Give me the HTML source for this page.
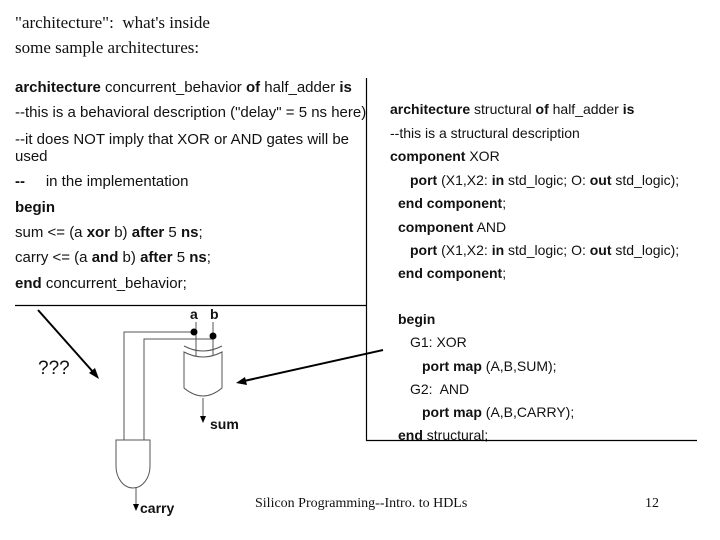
<!DOCTYPE html>
<html><head><style>
body{margin:0;width:720px;height:540px;background:#fff;position:relative;overflow:hidden;font-family:"Liberation Sans",Arial,sans-serif;color:#111}
.t{position:absolute;white-space:nowrap}
.s{font-family:"Liberation Serif",serif;font-size:17px}
.c{font-size:14px}
.l{font-size:15px}
b{font-weight:bold}
</style></head><body>
<div class="t s" style="left:15px;top:13px">"architecture":&nbsp; what's inside</div>
<div class="t s" style="left:15px;top:38px">some sample architectures:</div>

<div class="t l" style="left:15px;top:79px"><b>architecture</b> concurrent_behavior <b>of</b> half_adder <b>is</b></div>
<div class="t l" style="left:15px;top:104px">--this is a behavioral description ("delay" = 5 ns here)</div>
<div class="t l" style="left:15px;top:131px">--it does NOT imply that XOR or AND gates will be</div>
<div class="t l" style="left:15px;top:148px">used</div>
<div class="t l" style="left:15px;top:173px"><b>--</b>&nbsp;&nbsp;&nbsp;&nbsp; in the implementation</div>
<div class="t l" style="left:15px;top:199px"><b>begin</b></div>
<div class="t l" style="left:15px;top:224px">sum &lt;= (a <b>xor</b> b) <b>after</b> 5 <b>ns</b>;</div>
<div class="t l" style="left:15px;top:249px">carry &lt;= (a <b>and</b> b) <b>after</b> 5 <b>ns</b>;</div>
<div class="t l" style="left:15px;top:275px"><b>end</b> concurrent_behavior;</div>

<div class="t c" style="left:390px;top:101px"><b>architecture</b> structural <b>of</b> half_adder <b>is</b></div>
<div class="t c" style="left:390px;top:125px">--this is a structural description</div>
<div class="t c" style="left:390px;top:148px"><b>component</b> XOR</div>
<div class="t c" style="left:410px;top:172px"><b>port</b> (X1,X2: <b>in</b> std_logic; O: <b>out</b> std_logic);</div>
<div class="t c" style="left:398px;top:195px"><b>end component</b>;</div>
<div class="t c" style="left:398px;top:219px"><b>component</b> AND</div>
<div class="t c" style="left:410px;top:242px"><b>port</b> (X1,X2: <b>in</b> std_logic; O: <b>out</b> std_logic);</div>
<div class="t c" style="left:398px;top:265px"><b>end component</b>;</div>
<div class="t c" style="left:398px;top:311px"><b>begin</b></div>
<div class="t c" style="left:410px;top:334px">G1: XOR</div>
<div class="t c" style="left:422px;top:358px"><b>port map</b> (A,B,SUM);</div>
<div class="t c" style="left:410px;top:381px">G2:&nbsp; AND</div>
<div class="t c" style="left:422px;top:404px"><b>port map</b> (A,B,CARRY);</div>
<div class="t c" style="left:398px;top:427px"><b>end</b> structural;</div>

<div class="t c" style="left:190px;top:306px"><b>a</b></div>
<div class="t c" style="left:210px;top:306px"><b>b</b></div>
<div class="t c" style="left:210px;top:416px"><b>sum</b></div>
<div class="t c" style="left:140px;top:500px"><b>carry</b></div>
<div class="t" style="left:38px;top:358px;font-size:19px">???</div>
<div class="t" style="left:255px;top:496px;font-family:'Liberation Serif',serif;font-size:14px">Silicon Programming--Intro. to HDLs</div>
<div class="t" style="left:645px;top:496px;font-family:'Liberation Serif',serif;font-size:14px">12</div>

<svg width="720" height="540" style="position:absolute;left:0;top:0" fill="none" stroke="#000">
<line x1="366.5" y1="78" x2="366.5" y2="441" stroke-width="1.2"/>
<line x1="15" y1="305.5" x2="367" y2="305.5" stroke-width="1.2"/>
<line x1="366" y1="440.5" x2="697" y2="440.5" stroke-width="1.2"/>
<g stroke="#555" stroke-width="1">
<line x1="196" y1="322" x2="196" y2="360"/>
<line x1="213" y1="322" x2="213" y2="360"/>
<polyline points="194,332 124,332 124,440"/>
<polyline points="213,339 144,339 144,440"/>
<path d="M184,352 Q203,362 222,352 L222,388 Q203,404 184,388 Z" fill="#fff"/>
<path d="M184,346 Q203,356 222,346"/>
<path d="M116,440 L150,440 L150,466 A17,22 0 0 1 116,466 Z" fill="#fff"/>
<line x1="203" y1="398" x2="203" y2="420"/>
<line x1="136" y1="488" x2="136" y2="508"/>
</g>
<circle cx="194" cy="332" r="3" fill="#000"/>
<circle cx="213" cy="336" r="3" fill="#000"/>
<path d="M200,416 L206,416 L203,423 Z" fill="#000" stroke="none"/>
<path d="M133,504 L139,504 L136,511 Z" fill="#000" stroke="none"/>
<line x1="38" y1="310" x2="94" y2="373" stroke-width="2"/>
<path d="M99,379 L89,373 L95,368 Z" fill="#000" stroke="none"/>
<line x1="383" y1="350" x2="244" y2="381" stroke-width="2"/>
<path d="M236,383 L245,377 L247,385 Z" fill="#000" stroke="none"/>
</svg>
</body></html>
